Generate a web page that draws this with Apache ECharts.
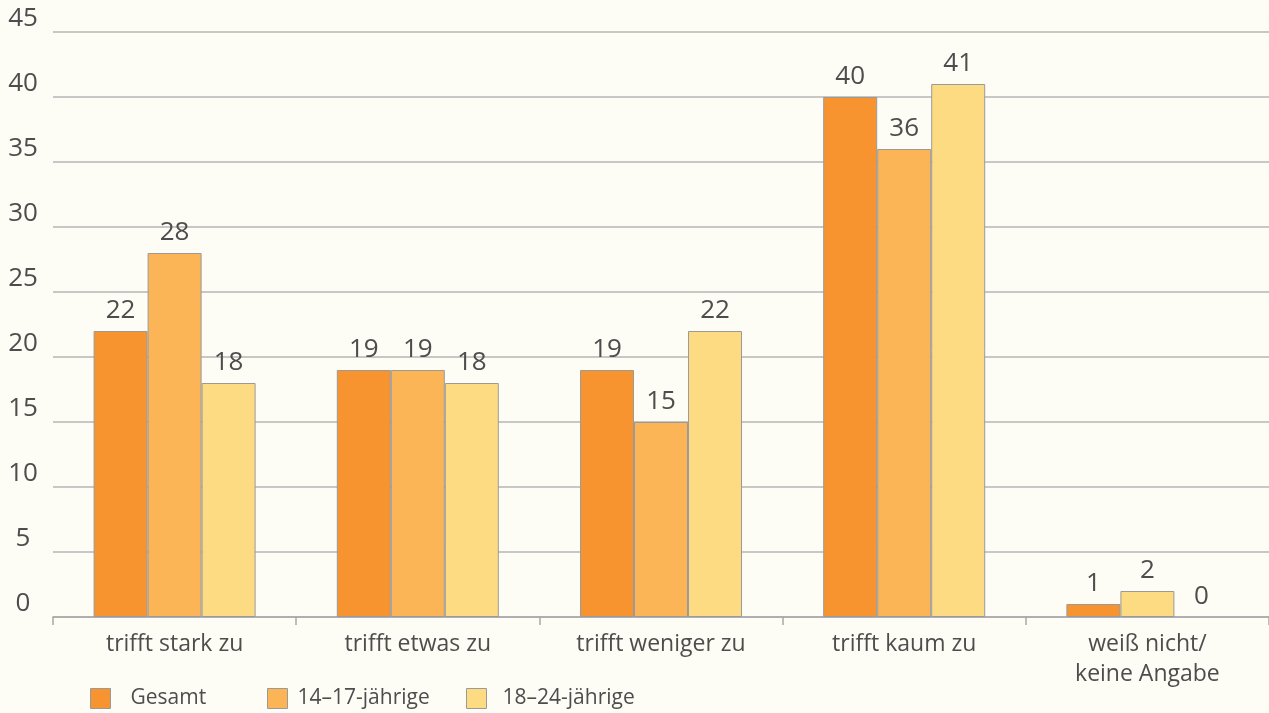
<!DOCTYPE html>
<html>
<head>
<meta charset="utf-8">
<script src="https://cdn.jsdelivr.net/npm/echarts@6/dist/echarts.min.js"></script>
<style>
  html, body { margin: 0; padding: 0; background: #fdfdf5; }
  #chart { width: 1269px; height: 713px; }
</style>
</head>
<body>
<div id="chart"></div>
<script>
// data
var categories = ['trifft stark zu', 'trifft etwas zu', 'trifft weniger zu', 'trifft kaum zu', 'weiß nicht/\nkeine Angabe'];
var seriesNames = ['Gesamt', '14–17-jährige', '18–24-jährige'];
var gesamt = [22, 19, 19, 40, 1];
var jung = [28, 19, 15, 36, 2];
var aelter = [18, 18, 22, 41, 0];
var yTicks = { min: 0, max: 45, interval: 5 };

var colors = ['#f7942f', '#fbb456', '#fddb82'];
var textColor = '#4d4d4d';
var font = '"Open Sans", "Noto Sans", sans-serif';

function bar(name, values, color) {
    return {
        name: name,
        type: 'bar',
        data: values,
        barWidth: 54,
        barGap: '0%',
        itemStyle: { color: color, borderColor: '#9a9a9a', borderWidth: 1 },
        label: {
            show: true,
            position: 'top',
            distance: 7,
            color: textColor,
            fontSize: 26,
            fontFamily: font
        }
    };
}

var series = [
    bar(seriesNames[0], gesamt, colors[0]),
    bar(seriesNames[1], jung, colors[1]),
    bar(seriesNames[2], aelter, colors[2])
];
// im Original ist der letzte Balken der 14–17-Jährigen gelb eingefärbt
series[1].data = jung.map(function (v, i) {
    return i === 4 ? { value: v, itemStyle: { color: colors[2] } } : v;
});
// Nullwert ohne Rahmenlinie
series[2].data = aelter.map(function (v) {
    return v === 0 ? { value: v, itemStyle: { borderWidth: 0 } } : v;
});

function legendAt(name, left, gap) {
    return {
        data: [name],
        left: left,
        top: 688,
        padding: 0,
        itemWidth: 20,
        itemHeight: 20,
        itemGap: 0,
        icon: 'rect',
        selectedMode: false,
        textStyle: { color: textColor, fontSize: 21, fontFamily: font, padding: [0, 0, 0, gap] },
        itemStyle: { borderColor: '#9a9a9a', borderWidth: 1 }
    };
}

var option = {
    backgroundColor: '#fdfdf5',
    animation: false,
    color: colors,
    grid: { left: 53, right: 0, top: 32, bottom: 96, containLabel: false },
    legend: [
        legendAt(seriesNames[0], 90, 15),
        legendAt(seriesNames[1], 267, 5),
        legendAt(seriesNames[2], 466, 11)
    ],
    xAxis: {
        type: 'category',
        data: categories,
        axisLine: { lineStyle: { color: '#a8a8a8', width: 1.5 } },
        axisTick: { show: true, length: 8, lineStyle: { color: '#a8a8a8', width: 1.5 } },
        axisLabel: {
            color: textColor,
            fontSize: 23,
            fontFamily: font,
            margin: 12,
            lineHeight: 30
        }
    },
    yAxis: {
        type: 'value',
        min: yTicks.min,
        max: yTicks.max,
        interval: yTicks.interval,
        axisLine: { show: false },
        axisTick: { show: false },
        splitLine: { lineStyle: { color: '#b4b4b4', width: 1.5 } },
        axisLabel: {
            color: textColor,
            fontSize: 26,
            fontFamily: font,
            align: 'center',
            verticalAlign: 'bottom',
            margin: 30
        }
    },
    series: series
};

var myChart = echarts.init(document.getElementById('chart'));
myChart.setOption(option);
</script>
</body>
</html>
